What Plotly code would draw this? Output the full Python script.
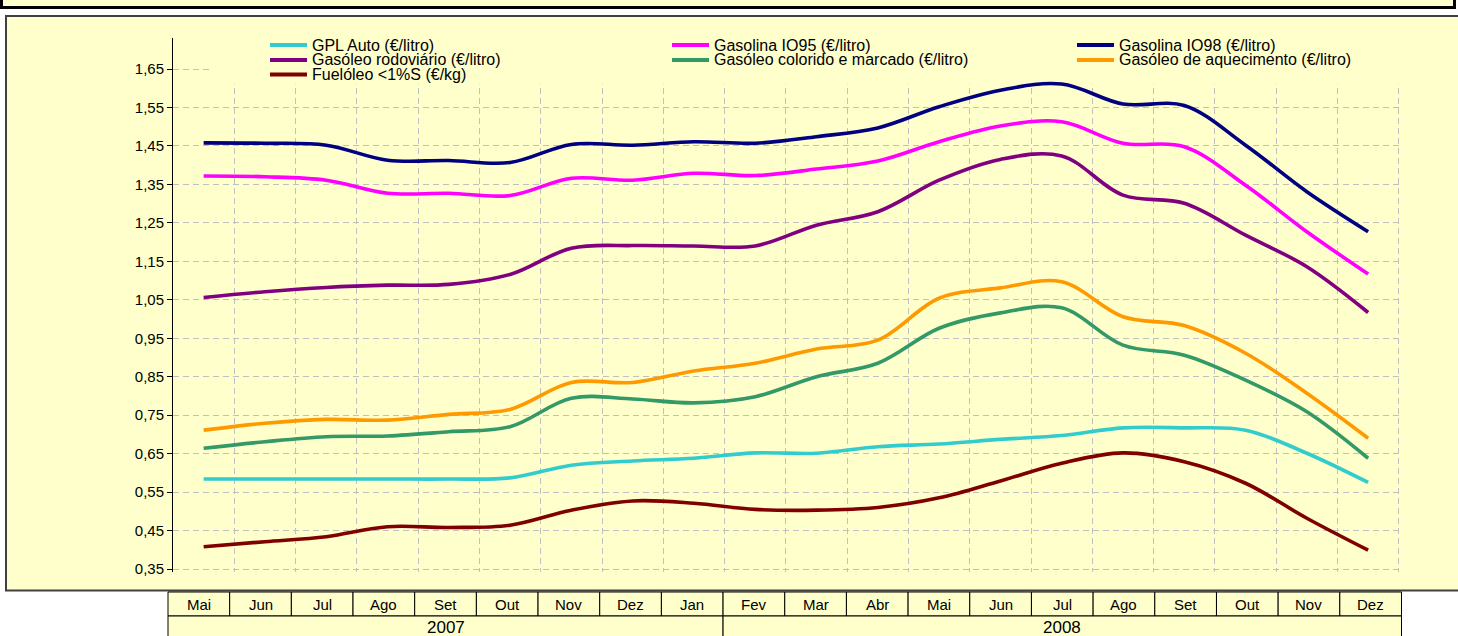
import plotly.graph_objects as go

# ---------------- data ----------------
months = ["Mai", "Jun", "Jul", "Ago", "Set", "Out", "Nov", "Dez", "Jan",
          "Fev", "Mar", "Abr", "Mai", "Jun", "Jul", "Ago", "Set", "Out", "Nov", "Dez"]
years = ["2007", "2008"]
year_spans = [9, 11]

y_tick_labels = ["0,35", "0,45", "0,55", "0,65", "0,75", "0,85", "0,95",
                 "1,05", "1,15", "1,25", "1,35", "1,45", "1,55", "1,65"]

gpl_auto = [0.584, 0.584, 0.584, 0.584, 0.584, 0.587, 0.620, 0.631, 0.638, 0.652,
            0.651, 0.668, 0.675, 0.687, 0.697, 0.717, 0.717, 0.711, 0.651, 0.575]
gasolina_io95 = [1.372, 1.370, 1.361, 1.327, 1.327, 1.321, 1.366, 1.361, 1.379, 1.373,
                 1.390, 1.411, 1.461, 1.502, 1.513, 1.457, 1.448, 1.348, 1.227, 1.117]
gasolina_io98 = [1.458, 1.457, 1.452, 1.413, 1.412, 1.407, 1.454, 1.452, 1.461, 1.457,
                 1.474, 1.497, 1.552, 1.595, 1.611, 1.559, 1.555, 1.452, 1.331, 1.227]
gasoleo_rodoviario = [1.056, 1.071, 1.082, 1.088, 1.090, 1.116, 1.184, 1.191, 1.190, 1.190,
                      1.244, 1.279, 1.361, 1.415, 1.424, 1.322, 1.301, 1.218, 1.136, 1.017]
gasoleo_colorido = [0.664, 0.681, 0.694, 0.696, 0.707, 0.720, 0.794, 0.792, 0.782, 0.798,
                    0.850, 0.885, 0.976, 1.016, 1.029, 0.932, 0.906, 0.841, 0.759, 0.638]
gasoleo_aquecimento = [0.711, 0.729, 0.739, 0.737, 0.752, 0.765, 0.835, 0.835, 0.865, 0.885,
                       0.922, 0.945, 1.054, 1.081, 1.097, 1.006, 0.983, 0.911, 0.807, 0.690]
fueloleo = [0.408, 0.421, 0.434, 0.460, 0.458, 0.464, 0.503, 0.527, 0.521, 0.505,
            0.503, 0.510, 0.535, 0.579, 0.625, 0.652, 0.629, 0.573, 0.482, 0.399]

series_names = ["GPL Auto (€/litro)", "Gasolina IO95 (€/litro)", "Gasolina IO98 (€/litro)",
                "Gasóleo rodoviário (€/litro)", "Gasóleo colorido e marcado (€/litro)",
                "Gasóleo de aquecimento (€/litro)", "Fuelóleo <1%S (€/kg)"]
series_values = [gpl_auto, gasolina_io95, gasolina_io98, gasoleo_rodoviario,
                 gasoleo_colorido, gasoleo_aquecimento, fueloleo]
series_colors = ["#33CCCC", "#FF00FF", "#000080", "#800080", "#339966", "#FF9900", "#800000"]

# ---------------- geometry helpers ----------------
W, H = 1458, 636
L, R, T, B = 173, 58, 38, 64
PW, PH = W - L - R, H - T - B
FONT = "Liberation Sans, Arial, sans-serif"
YELLOW = "#FFFFCC"
Y_MIN, Y_MAX = 0.3422, 1.7307
X_MIN, X_MAX = -0.5, len(months) - 0.48


def px(x):
    return (x - L) / PW


def py(y):
    return (H - B - y) / PH


x_idx = list(range(len(months)))
fig = go.Figure()
for name, vals, col in zip(series_names, series_values, series_colors):
    fig.add_trace(go.Scatter(x=x_idx, y=vals, name=name, mode="lines",
                             line=dict(color=col, width=3.6, shape="spline", smoothing=1.0),
                             showlegend=False))

tickvals = [float(s.replace(",", ".")) for s in y_tick_labels]

shapes = []
annotations = []
# title box (mostly cut off at top)
shapes.append(dict(type="rect", xref="paper", yref="paper", x0=px(1.5), x1=px(1454.5),
                   y0=py(7.5), y1=py(-30), fillcolor=YELLOW,
                   line=dict(color="black", width=3), layer="below"))
# chart box
shapes.append(dict(type="rect", xref="paper", yref="paper", x0=px(6), x1=px(1490),
                   y0=py(590.5), y1=py(16), fillcolor=YELLOW,
                   line=dict(color="#404040", width=2), layer="below"))
# legend backdrop hiding grid (between gridlines and traces)
shapes.append(dict(type="rect", xref="x", yref="y",
                   x0=X_MIN + px(212) * (X_MAX - X_MIN), x1=X_MAX + 0.05,
                   y0=Y_MIN + py(83.5) * (Y_MAX - Y_MIN), y1=Y_MAX,
                   fillcolor=YELLOW, line=dict(width=0), layer="between"))

# manual legend (3 columns)
col_x = [270, 672, 1077]
row_y = [45, 60, 74.5]
for i, (name, col) in enumerate(zip(series_names, series_colors)):
    cx, ry = col_x[i % 3], row_y[i // 3]
    shapes.append(dict(type="line", xref="paper", yref="paper", x0=px(cx), x1=px(cx + 37),
                       y0=py(ry), y1=py(ry), line=dict(color=col, width=4), layer="above"))
    annotations.append(dict(xref="paper", yref="paper", x=px(cx + 40), y=py(ry),
                            xanchor="left", yanchor="middle", text=name, showarrow=False,
                            font=dict(family=FONT, size=16, color="black")))

# category table under the chart
tl, tr = 168, 1401.5
cw = (tr - tl) / len(months)
r1, r2, r3 = 592, 616, 660
for i, m in enumerate(months):
    x0, x1 = tl + i * cw, tl + (i + 1) * cw
    shapes.append(dict(type="rect", xref="paper", yref="paper", x0=px(x0), x1=px(x1),
                       y0=py(r2), y1=py(r1), fillcolor=YELLOW,
                       line=dict(color="black", width=1), layer="above"))
    annotations.append(dict(xref="paper", yref="paper", x=px((x0 + x1) / 2), y=py((r1 + r2) / 2),
                            xanchor="center", yanchor="middle", text=m, showarrow=False,
                            font=dict(family=FONT, size=15, color="black")))
start = 0
for yr, span in zip(years, year_spans):
    x0, x1 = tl + start * cw, tl + (start + span) * cw
    shapes.append(dict(type="rect", xref="paper", yref="paper", x0=px(x0), x1=px(x1),
                       y0=py(r3), y1=py(r2), fillcolor=YELLOW,
                       line=dict(color="black", width=1), layer="above"))
    annotations.append(dict(xref="paper", yref="paper", x=px((x0 + x1) / 2), y=py(627),
                            xanchor="center", yanchor="middle", text=yr, showarrow=False,
                            font=dict(family=FONT, size=17, color="black")))
    start += span

fig.update_layout(
    width=W, height=H,
    margin=dict(l=L, r=R, t=T, b=B, pad=0),
    paper_bgcolor="white", plot_bgcolor=YELLOW,
    font=dict(family=FONT, size=15, color="black"),
    shapes=shapes, annotations=annotations,
    xaxis=dict(range=[X_MIN, X_MAX], tickvals=[i + 0.5 for i in range(len(months))],
               showticklabels=False, ticks="", showgrid=True, gridcolor="#C0C0C0",
               griddash="6px,4px", gridwidth=1, zeroline=False, showline=False),
    yaxis=dict(range=[Y_MIN, Y_MAX], tickvals=tickvals, ticktext=y_tick_labels,
               ticks="outside", ticklen=5, tickcolor="black", showline=True,
               linecolor="black", linewidth=1, showgrid=True, gridcolor="#C0C0C0",
               griddash="6px,4px", gridwidth=1, zeroline=False,
               tickfont=dict(family=FONT, size=15, color="black")),
    showlegend=False,
)

fig.write_html("out.html", config={"displayModeBar": False},
               post_script="document.body.style.margin='0';")
